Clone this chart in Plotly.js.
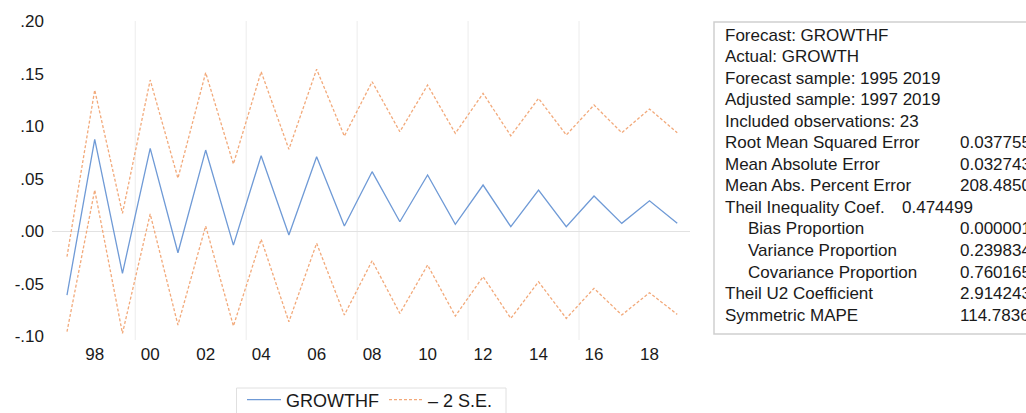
<!DOCTYPE html>
<html>
<head>
<meta charset="utf-8">
<script src="https://cdn.plot.ly/plotly-3.0.1.min.js"></script>
<style>
  html, body { margin: 0; padding: 0; background: #ffffff; overflow: hidden; }
  #chart { width: 1026px; height: 413px; }
</style>
</head>
<body>
<div id="chart"></div>
<script>
// ---- data ----
const years = [1997, 1998, 1999, 2000, 2001, 2002, 2003, 2004, 2005, 2006, 2007, 2008,
               2009, 2010, 2011, 2012, 2013, 2014, 2015, 2016, 2017, 2018, 2019];
const growthf = [-0.0605, 0.0878, -0.0398, 0.0792, -0.0202, 0.0776, -0.0129, 0.0722, -0.0033, 0.0712, 0.0052, 0.0570,
                 0.0093, 0.0538, 0.0069, 0.0443, 0.0046, 0.0395, 0.0046, 0.0338, 0.0078, 0.0293, 0.0078];
const upperBand = [-0.0240, 0.1348, 0.0173, 0.1443, 0.0507, 0.1513, 0.0643, 0.1522, 0.0783, 0.1545, 0.0909, 0.1427,
                   0.0950, 0.1395, 0.0935, 0.1316, 0.0912, 0.1268, 0.0919, 0.1205, 0.0941, 0.1167, 0.0941];
const lowerBand = [-0.0954, 0.0395, -0.0970, 0.0167, -0.0890, 0.0052, -0.0900, -0.0074, -0.0859, -0.0112, -0.0795, -0.0278,
                   -0.0780, -0.0319, -0.0805, -0.0430, -0.0827, -0.0478, -0.0827, -0.0541, -0.0795, -0.0583, -0.0789];

const xTickVals = [1998, 2000, 2002, 2004, 2006, 2008, 2010, 2012, 2014, 2016, 2018];
const xTickText = ['98', '00', '02', '04', '06', '08', '10', '12', '14', '16', '18'];
const yTickVals = [-0.10, -0.05, 0.00, 0.05, 0.10, 0.15, 0.20];
const yTickText = ['-.10', '-.05', '.00', '.05', '.10', '.15', '.20'];
const gridYears = [1999.46, 2003.46, 2007.46, 2011.46, 2015.46];

const seriesNames = ['GROWTHF', '\u2013 2 S.E.'];

const statLabels = ['Forecast: GROWTHF', 'Actual: GROWTH', 'Forecast sample: 1995 2019',
  'Adjusted sample: 1997 2019', 'Included observations: 23', 'Root Mean Squared Error',
  'Mean Absolute Error', 'Mean Abs. Percent Error', 'Theil Inequality Coef.',
  'Bias Proportion', 'Variance Proportion', 'Covariance Proportion',
  'Theil U2 Coefficient', 'Symmetric MAPE'];
const statValues = ['', '', '', '', '', '0.037755', '0.032743', '208.4850', '0.474499',
  '0.000001', '0.239834', '0.760165', '2.914243', '114.7836'];
const statIndented = ['Bias Proportion', 'Variance Proportion', 'Covariance Proportion'];
const statInline = ['Theil Inequality Coef.'];

// ---- layout geometry ----
const W = 1026, H = 413;
const M = { l: 52, r: 336, t: 21, b: 73, autoexpand: false };
const plotW = W - M.l - M.r, plotH = H - M.t - M.b;
const px2paperX = p => (p - M.l) / plotW;
const px2paperY = p => (H - M.b - p) / plotH;

const FONT = '"Liberation Sans", Arial, Helvetica, sans-serif';
const BLUE = '#6f9ad6';
const ORANGE = '#f2a97a';

const traces = [
  { x: years, y: growthf, type: 'scatter', mode: 'lines', name: seriesNames[0],
    line: { color: BLUE, width: 1.3 }, hoverinfo: 'skip' },
  { x: years, y: upperBand, type: 'scatter', mode: 'lines', name: seriesNames[1], legendgroup: 'se',
    line: { color: ORANGE, width: 1.3, dash: '3px,2px' }, hoverinfo: 'skip' },
  { x: years, y: lowerBand, type: 'scatter', mode: 'lines', name: seriesNames[1], legendgroup: 'se', showlegend: false,
    line: { color: ORANGE, width: 1.3, dash: '3px,2px' }, hoverinfo: 'skip' }
];

const shapes = gridYears.map(g => ({
  type: 'line', xref: 'x', yref: 'paper', x0: g, x1: g, y0: 0, y1: 1,
  line: { color: '#ececec', width: 1 }, layer: 'below'
}));
// statistics box
shapes.push({
  type: 'rect', xref: 'paper', yref: 'paper',
  x0: px2paperX(714), x1: px2paperX(1040), y0: px2paperY(334), y1: px2paperY(22),
  line: { color: '#cfcfcf', width: 1.5 }, fillcolor: 'rgba(0,0,0,0)'
});
// legend frame
shapes.push({
  type: 'rect', xref: 'paper', yref: 'paper',
  x0: px2paperX(236.5), x1: px2paperX(506), y0: px2paperY(425), y1: px2paperY(388),
  line: { color: '#e0e0e0', width: 1 }, fillcolor: 'rgba(0,0,0,0)'
});

const annotations = [];
const lineTop = 35, lineStep = 21.55;
statLabels.forEach((lab, i) => {
  const yy = px2paperY(lineTop + i * lineStep);
  const indent = statIndented.includes(lab);
  annotations.push({
    xref: 'paper', yref: 'paper', x: px2paperX(indent ? 746 : 723), y: yy,
    xanchor: 'left', yanchor: 'middle', showarrow: false, text: lab,
    font: { family: FONT, size: 17, color: '#1a1a1a' }
  });
  if (statValues[i]) {
    const inline = statInline.includes(lab);
    annotations.push({
      xref: 'paper', yref: 'paper', x: px2paperX(inline ? 900 : 958), y: yy,
      xanchor: 'left', yanchor: 'middle', showarrow: false, text: statValues[i],
      font: { family: FONT, size: 17, color: '#1a1a1a' }
    });
  }
});

const layout = {
  width: W, height: H,
  margin: M,
  paper_bgcolor: '#ffffff', plot_bgcolor: '#ffffff',
  font: { family: FONT, size: 17, color: '#1a1a1a' },
  showlegend: true,
  legend: {
    orientation: 'h', x: px2paperX(242), y: px2paperY(381.5), xanchor: 'left', yanchor: 'top',
    borderwidth: 0, bgcolor: 'rgba(0,0,0,0)',
    font: { family: FONT, size: 18, color: '#1a1a1a' }, itemwidth: 34
  },
  xaxis: {
    range: [1996.46, 2019.46], showgrid: false, zeroline: false, showline: false,
    tickvals: xTickVals, ticktext: xTickText, ticks: '', ticklabelstandoff: 2,
    tickfont: { family: FONT, size: 17, color: '#1a1a1a' }, fixedrange: true
  },
  yaxis: {
    range: [-0.1033, 0.2005], showgrid: false, zeroline: true, zerolinecolor: '#e2e2e2', zerolinewidth: 1,
    showline: false, tickvals: yTickVals, ticktext: yTickText, ticks: '', ticklabelstandoff: 7,
    tickfont: { family: FONT, size: 17, color: '#1a1a1a' }, fixedrange: true
  },
  shapes: shapes,
  annotations: annotations
};

Plotly.newPlot('chart', traces, layout, { displayModeBar: false, staticPlot: true });
</script>
</body>
</html>
